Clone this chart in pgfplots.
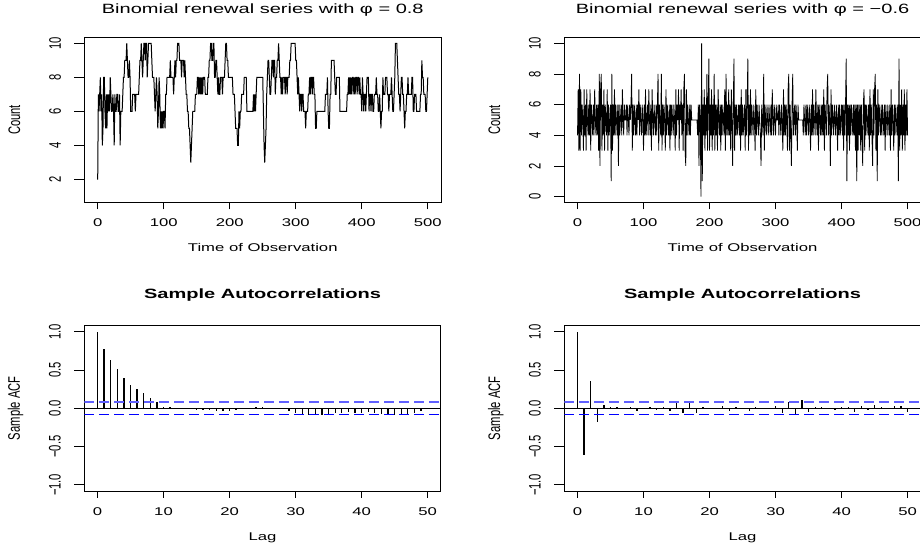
\documentclass[border=0pt]{standalone}
\usepackage{pgfplots}
\pgfplotsset{compat=1.18}
\usepackage{pgfplotstable}
\usepackage{fontspec}
\setmainfont{Liberation Sans}[FakeStretch=1.49]
\newfontfamily\rotfont{Liberation Sans}[FakeStretch=0.671]
\definecolor{ciup}{RGB}{95,95,255}
\definecolor{cilo}{RGB}{0,0,255}
\newcommand{\hf}{\fontsize{11.2}{13}\selectfont}
\newcommand{\rf}{\rotfont\fontsize{16.7}{19}\selectfont}

\pgfplotsset{
 rpanel/.style={
  scale only axis, width=356.5pt, height=165.5pt,
  axis line style={line width=0.9pt},
  tick align=outside, tick pos=left,
  major tick length=6.7pt,
  every tick/.style={black, line width=0.8pt},
  xticklabel style={font=\hf, anchor=base, yshift=-17.3pt},
  yticklabel style={font=\rf, xshift=-13.6pt, rotate=90, anchor=base},
  xlabel style={font=\hf, at={(axis description cs:0.5,0)}, anchor=base, yshift=-49pt},
  every axis y label/.style={font=\rf, at={(axis description cs:0,0.5)}, xshift=-64.3pt, rotate=90, anchor=base},
  every axis title/.style={font=\fontsize{13.44}{15}\selectfont, at={(axis description cs:0.5,1)}, anchor=base, yshift=23.9pt},
  ytick=\empty,
  extra y tick style={major tick length=10pt},
 },
 acfpanel/.style={
  rpanel, xmin=-2, xmax=52, ymin=-1.08, ymax=1.08,
  xtick={0,10,20,30,40,50}, xticklabels={0,10,20,30,40,50},
  extra y ticks={-1,-0.5,0,0.5,1}, extra y tick labels={−1.0,−0.5,0.0,0.5,1.0},
  every axis title/.style={font=\fontsize{13.44}{15}\selectfont\bfseries, at={(axis description cs:0.5,1)}, anchor=base, yshift=26.7pt},
  xlabel={Lag}, ylabel={Sample ACF}, title={Sample Autocorrelations},
  xlabel style={yshift=-0.5pt},
 },
}

\pgfplotstableread[row sep=\\]{
y\\
2\\7\\6\\7\\8\\6\\7\\4\\5\\8\\
8\\6\\5\\7\\5\\7\\6\\7\\6\\8\\
7\\6\\6\\7\\6\\4\\7\\6\\6\\7\\
7\\6\\6\\7\\4\\6\\6\\6\\7\\8\\
8\\9\\9\\9\\10\\9\\8\\8\\9\\8\\
6\\6\\6\\7\\7\\7\\7\\6\\7\\7\\
7\\7\\7\\8\\9\\9\\10\\9\\8\\9\\
10\\10\\9\\10\\10\\8\\9\\10\\10\\10\\
10\\10\\9\\8\\8\\8\\7\\6\\7\\8\\
7\\5\\6\\8\\7\\5\\6\\5\\6\\5\\
6\\6\\5\\7\\7\\8\\8\\8\\8\\8\\
9\\8\\8\\8\\8\\7\\8\\9\\8\\9\\
9\\10\\10\\10\\9\\9\\9\\8\\9\\9\\
9\\8\\9\\8\\7\\7\\6\\6\\5\\5\\
4\\3\\4\\5\\6\\6\\6\\6\\7\\7\\
7\\8\\8\\7\\8\\7\\8\\7\\8\\7\\
8\\8\\8\\7\\7\\7\\7\\8\\8\\9\\
9\\10\\10\\9\\9\\10\\10\\8\\8\\9\\
9\\8\\7\\8\\7\\7\\8\\8\\8\\7\\
8\\8\\8\\9\\10\\10\\9\\9\\8\\8\\
8\\8\\8\\8\\8\\7\\7\\7\\6\\5\\
5\\5\\4\\4\\6\\5\\6\\6\\7\\7\\
7\\7\\8\\8\\8\\8\\6\\6\\6\\6\\
6\\6\\6\\6\\6\\6\\7\\6\\7\\6\\
7\\8\\8\\8\\8\\8\\8\\8\\8\\8\\
8\\6\\4\\3\\4\\5\\7\\8\\9\\9\\
8\\7\\7\\8\\9\\9\\8\\9\\9\\7\\
8\\8\\9\\9\\10\\9\\8\\8\\7\\8\\
7\\8\\8\\8\\7\\8\\8\\7\\8\\8\\
8\\9\\9\\10\\10\\10\\10\\10\\10\\10\\
9\\9\\8\\7\\8\\7\\6\\7\\7\\6\\
7\\7\\6\\6\\6\\5\\6\\6\\6\\7\\
7\\8\\7\\8\\8\\7\\8\\8\\7\\7\\
5\\5\\6\\6\\6\\6\\6\\6\\6\\6\\
6\\6\\6\\6\\6\\7\\7\\7\\8\\6\\
5\\5\\7\\7\\9\\9\\9\\9\\9\\8\\
7\\7\\8\\8\\8\\8\\8\\6\\6\\6\\
6\\6\\6\\6\\6\\6\\6\\6\\7\\7\\
8\\7\\8\\7\\8\\7\\8\\8\\7\\8\\
7\\8\\8\\7\\8\\8\\7\\8\\7\\7\\
6\\8\\7\\6\\7\\7\\6\\7\\8\\8\\
8\\6\\7\\7\\6\\7\\7\\6\\6\\7\\
7\\7\\8\\7\\7\\6\\6\\7\\6\\5\\
6\\6\\8\\7\\7\\7\\8\\8\\8\\7\\
7\\6\\7\\7\\7\\8\\7\\6\\6\\7\\
8\\10\\10\\10\\9\\8\\7\\7\\6\\7\\
8\\8\\7\\7\\6\\5\\6\\6\\7\\7\\
8\\7\\7\\7\\7\\7\\8\\8\\6\\6\\
7\\7\\7\\6\\6\\6\\6\\6\\6\\7\\
7\\9\\8\\8\\7\\7\\7\\6\\6\\7\\
8\\
}\seriesA

\pgfplotstableread[row sep=\\]{
y\\
4\\7\\3\\8\\3\\7\\4\\6\\5\\3\\
7\\4\\6\\3\\7\\5\\4\\6\\4\\7\\
3\\6\\5\\4\\6\\4\\7\\5\\4\\6\\
4\\6\\3\\8\\2\\7\\8\\3\\6\\4\\
7\\3\\6\\5\\4\\7\\3\\6\\4\\5\\
6\\1\\8\\3\\6\\4\\7\\4\\6\\5\\
4\\6\\2\\6\\4\\5\\6\\4\\7\\5\\
4\\6\\5\\5\\6\\4\\6\\5\\4\\6\\
5\\6\\8\\3\\6\\4\\6\\5\\4\\6\\
4\\6\\5\\7\\4\\6\\5\\4\\6\\5\\
3\\6\\4\\7\\4\\5\\6\\4\\7\\5\\
4\\6\\3\\7\\5\\4\\6\\5\\4\\6\\
4\\6\\8\\3\\6\\5\\4\\8\\3\\6\\
4\\6\\5\\3\\7\\4\\6\\5\\4\\6\\
3\\6\\4\\6\\5\\4\\6\\5\\3\\7\\
4\\6\\5\\7\\3\\6\\5\\7\\4\\6\\
3\\7\\8\\3\\2\\7\\4\\6\\5\\4\\
6\\4\\6\\5\\5\\5\\5\\5\\5\\5\\
5\\5\\4\\6\\2\\6\\5\\0\\10\\1\\
6\\4\\7\\3\\6\\4\\8\\3\\6\\9\\
3\\6\\4\\7\\3\\6\\4\\8\\3\\6\\
4\\6\\3\\7\\5\\4\\6\\3\\6\\4\\
6\\5\\4\\7\\3\\8\\4\\6\\4\\7\\
4\\6\\3\\7\\5\\2\\6\\9\\3\\6\\
4\\6\\4\\5\\6\\4\\6\\3\\7\\4\\
6\\4\\5\\6\\3\\7\\4\\6\\9\\3\\
6\\4\\7\\4\\6\\5\\4\\6\\5\\3\\
7\\4\\6\\5\\4\\6\\5\\4\\2\\6\\
5\\4\\8\\3\\6\\5\\4\\6\\5\\4\\
6\\5\\4\\6\\4\\7\\5\\4\\6\\5\\
4\\6\\5\\5\\6\\4\\6\\5\\4\\6\\
5\\3\\7\\4\\6\\4\\6\\5\\3\\7\\
8\\3\\6\\4\\2\\6\\8\\4\\5\\6\\
4\\6\\5\\3\\6\\5\\5\\5\\5\\5\\
5\\5\\4\\6\\5\\4\\6\\4\\6\\5\\
4\\6\\5\\3\\6\\4\\7\\4\\6\\5\\
4\\7\\5\\4\\6\\3\\6\\5\\4\\6\\
4\\6\\4\\7\\3\\6\\5\\4\\7\\8\\
4\\6\\5\\2\\7\\4\\6\\5\\4\\6\\
5\\4\\6\\5\\3\\6\\4\\6\\4\\5\\
6\\4\\6\\3\\6\\4\\6\\9\\1\\6\\
4\\6\\3\\6\\4\\6\\5\\4\\6\\4\\
6\\3\\6\\1\\6\\3\\6\\4\\6\\3\\
6\\4\\2\\6\\7\\3\\6\\4\\6\\5\\
4\\6\\3\\7\\4\\6\\4\\2\\7\\4\\
7\\8\\3\\6\\1\\7\\4\\6\\5\\4\\
6\\4\\6\\5\\4\\6\\3\\6\\5\\4\\
6\\5\\4\\6\\3\\7\\4\\6\\5\\3\\
6\\4\\6\\5\\4\\6\\1\\9\\3\\6\\
4\\7\\3\\6\\4\\7\\3\\6\\4\\7\\
4\\
}\seriesB

\pgfplotstableread{
lag acf
0 1.0
1 0.778
2 0.63
3 0.513
4 0.396
5 0.309
6 0.257
7 0.2
8 0.135
9 0.078
10 0.02
11 0.01
12 0.005
13 -0.005
14 -0.015
15 -0.02
16 -0.02
17 -0.025
18 -0.035
19 -0.04
20 -0.03
21 -0.02
22 -0.01
23 0.005
24 0.015
25 0.01
26 -0.005
27 -0.01
28 -0.015
29 -0.04
30 -0.06
31 -0.074
32 -0.09
33 -0.087
34 -0.09
35 -0.074
36 -0.06
37 -0.06
38 -0.048
39 -0.06
40 -0.06
41 -0.052
42 -0.06
43 -0.074
44 -0.09
45 -0.082
46 -0.074
47 -0.074
48 -0.06
49 -0.04
50 -0.005
}\acfA

\pgfplotstableread{
lag acf
0 1.0
1 -0.604
2 0.36
3 -0.174
4 0.048
5 0.01
6 0.01
7 0.005
8 0.01
9 -0.03
10 0.005
11 0.01
12 -0.02
13 0.01
14 -0.03
15 0.065
16 -0.06
17 0.087
18 -0.065
19 0.02
20 -0.01
21 0.005
22 0.03
23 -0.03
24 0.01
25 0.005
26 -0.035
27 0.01
28 -0.01
29 0.005
30 0.03
31 -0.057
32 0.087
33 -0.074
34 0.104
35 -0.045
36 0.02
37 0.01
38 0.005
39 -0.02
40 0.01
41 0.01
42 -0.045
43 0.03
44 -0.02
45 0.04
46 0.01
47 -0.01
48 0.025
49 0.035
50 -0.05
}\acfB

\begin{document}
\begin{tikzpicture}
% top left
\begin{axis}[rpanel, at={(84.5pt,348.3pt)}, anchor=south west,
  xmin=-20, xmax=520, ymin=0.64, ymax=10.36,
  xtick={0,100,200,300,400,500}, xticklabels={0,100,200,300,400,500},
  extra y ticks={2,4,6,8,10}, extra y tick labels={2,4,6,8,10},
  title={Binomial renewal series with φ = 0.8},
  xlabel={Time of Observation}, ylabel={Count}]
\addplot[black, line width=1pt, mark=none] table[x expr=\coordindex, y=y] {\seriesA};
\end{axis}
% top right
\begin{axis}[rpanel, at={(564.3pt,348.3pt)}, anchor=south west,
  xmin=-20, xmax=520, ymin=-0.4, ymax=10.4,
  xtick={0,100,200,300,400,500}, xticklabels={0,100,200,300,400,500},
  extra y ticks={0,2,4,6,8,10}, extra y tick labels={0,2,4,6,8,10},
  title={Binomial renewal series with φ = −0.6},
  xlabel={Time of Observation}, ylabel={Count}]
\addplot[black, line width=0.8pt, mark=none] table[x expr=\coordindex, y=y] {\seriesB};
\end{axis}
% bottom left
\begin{axis}[acfpanel, at={(84.3pt,60pt)}, anchor=south west]
\addplot[ycomb, black, line width=1.3pt, mark=none] table[x=lag, y=acf] {\acfA};
\addplot[black, line width=0.9pt, mark=none] coordinates {(-2,0) (52,0)};
\addplot[draw=ciup, color=ciup, line width=2pt, dash pattern=on 10pt off 5pt, mark=none] coordinates {(-2,0.0877) (52,0.0877)};
\addplot[draw=cilo, color=cilo, line width=1pt, dash pattern=on 10pt off 5pt, mark=none] coordinates {(-2,-0.0877) (52,-0.0877)};
\end{axis}
% bottom right
\begin{axis}[acfpanel, at={(564.3pt,60pt)}, anchor=south west]
\addplot[ycomb, black, line width=1.3pt, mark=none] table[x=lag, y=acf] {\acfB};
\addplot[black, line width=0.9pt, mark=none] coordinates {(-2,0) (52,0)};
\addplot[draw=ciup, color=ciup, line width=2pt, dash pattern=on 10pt off 5pt, mark=none] coordinates {(-2,0.0877) (52,0.0877)};
\addplot[draw=cilo, color=cilo, line width=1pt, dash pattern=on 10pt off 5pt, mark=none] coordinates {(-2,-0.0877) (52,-0.0877)};
\end{axis}
\pgfresetboundingbox
\path (0pt,0pt) rectangle (920pt,551pt);
\end{tikzpicture}
\end{document}
